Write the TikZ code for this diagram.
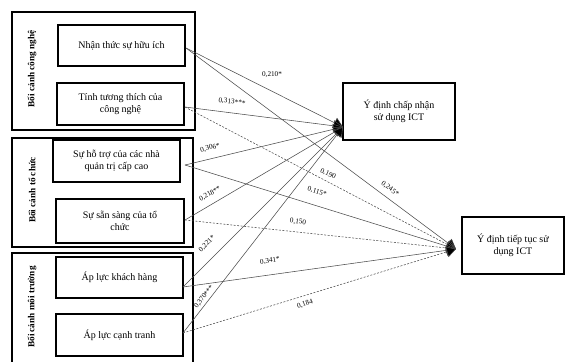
\documentclass[tikz,border=0pt]{standalone}
\usepackage{fontspec}
\setmainfont{Liberation Serif}
\usetikzlibrary{arrows.meta}
\begin{document}
\begin{tikzpicture}[x=1pt,y=-1pt,
  grp/.style={draw,line width=1.1pt},
  fbox/.style={draw,line width=1.3pt,align=center,inner sep=0pt,
    font=\fontsize{10}{12.5}\selectfont},
  glabel/.style={rotate=90,font=\bfseries\fontsize{9.2}{10}\selectfont},
  link/.style={draw=black!70,line width=0.55pt,-{Triangle[length=9.5pt,width=11pt,fill=black]}},
  dlink/.style={link,dash pattern=on 2pt off 1.5pt},
  coef/.style={font=\fontsize{7.2}{8}\selectfont,inner sep=0.3pt}
]
\useasboundingbox (0,0) rectangle (566,362);

% context groups
\draw[grp] (12,12) rectangle (195,130);
\draw[grp] (12,138) rectangle (193,247);
\draw[grp] (12,253) rectangle (193,366);
\node[glabel] (g1) at (32,69) {Bối cảnh công nghệ};
\node[glabel] (g2) at (32,190) {Bối cảnh tổ chức};
\node[glabel] (g3) at (32,307) {Bối cảnh môi trường};

% factors
\node[fbox,minimum width=127pt,minimum height=41pt] (b1) at (121.5,45.5) {Nhận thức sự hữu ích};
\node[fbox,minimum width=127pt,minimum height=42pt] (b2) at (120.5,104) {Tính tương thích của\\công nghệ};
\node[fbox,minimum width=127pt,minimum height=42pt] (b3) at (116.5,161) {Sự hỗ trợ của các nhà\\quản trị cấp cao};
\node[fbox,minimum width=128pt,minimum height=44pt] (b4) at (120,221) {Sự sẵn sàng của tổ\\chức};
\node[fbox,minimum width=127pt,minimum height=41pt] (b5) at (119.5,277.5) {Áp lực khách hàng};
\node[fbox,minimum width=127pt,minimum height=42pt] (b6) at (119.5,335) {Áp lực cạnh tranh};

% outcomes
\node[fbox,minimum width=112pt,minimum height=57pt] (o1) at (399,111.5) {Ý định chấp nhận\\sử dụng ICT};
\node[fbox,minimum width=102pt,minimum height=57pt] (o2) at (513,245.5) {Ý định tiếp tục sử\\dụng ICT};

% path start and end points
\coordinate (s1) at (186,48);
\coordinate (s2) at (185,107);
\coordinate (s3) at (185,165);
\coordinate (s4) at (185,220);
\coordinate (s5) at (183,287);
\coordinate (s6) at (183,333);
\coordinate (t1) at (343,127);
\coordinate (t2) at (456,249);

% paths to adoption intention
\draw[link] (s1) -- (t1);
\draw[link] (s2) -- (t1);
\draw[link] (s3) -- (t1);
\draw[link] (s4) -- (t1);
\draw[link] (s5) -- (t1);
\draw[link] (s6) -- (t1);
% paths to continuance intention
\draw[link] (s1) -- (t2);
\draw[dlink] (s2) -- (t2);
\draw[link] (s3) -- (t2);
\draw[dlink] (s4) -- (t2);
\draw[link] (s5) -- (t2);
\draw[dlink] (s6) -- (t2);

% path coefficients
\node[coef] (c1) at (272,75) {0,210*};
\node[coef,rotate=-7] (c2) at (232,102) {0,313***};
\node[coef,rotate=13] (c3) at (210,148) {0,306*};
\node[coef,rotate=30] (c4) at (210,194) {0,218**};
\node[coef,rotate=45] (c5) at (207,244) {0,221*};
\node[coef,rotate=52] (c6) at (204,297) {0,370***};
\node[coef,rotate=-35] (c7) at (390,189) {0,245*};
\node[coef,rotate=-24] (c8) at (328,174) {0,190};
\node[coef,rotate=-17] (c9) at (317,192) {0,115*};
\node[coef,rotate=-8] (c10) at (298,222) {0,150};
\node[coef,rotate=8] (c11) at (270,261) {0,341*};
\node[coef,rotate=17] (c12) at (305,304) {0,184};
\end{tikzpicture}
\end{document}
